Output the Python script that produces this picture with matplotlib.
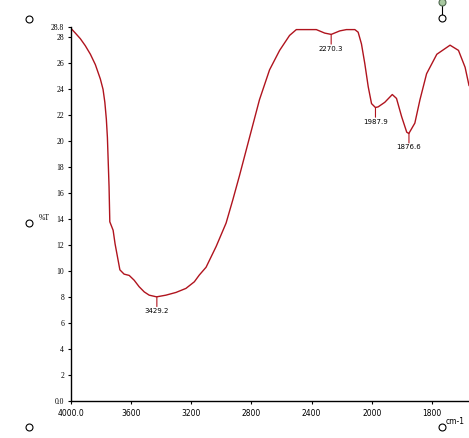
import numpy as np
import matplotlib
matplotlib.use("Agg")
import matplotlib.pyplot as plt

# IR spectrum (wavenumber cm-1, %T)
wavenumber = [4000, 3971, 3938, 3905, 3871, 3838, 3805, 3787, 3775, 3765,
              3758, 3747, 3742, 3720, 3707, 3691, 3675, 3647, 3613, 3580,
              3547, 3513, 3480, 3431, 3369, 3302, 3236, 3180, 3147, 3102,
              3035, 2969, 2924, 2880, 2813, 2747, 2680, 2613, 2547, 2502,
              2369, 2313, 2270, 2213, 2169, 2113, 2091, 2069, 2047, 2024,
              2002, 1988, 1979, 1957, 1932, 1918, 1901, 1884, 1877, 1857,
              1840, 1818, 1784, 1740, 1712, 1690, 1677]
transmittance = [28.69, 28.33, 27.9, 27.36, 26.7, 25.9, 24.8, 24.0, 23.0, 21.7,
                 20.3, 16.5, 13.8, 13.15, 12.1, 11.1, 10.1, 9.77, 9.67, 9.3,
                 8.8, 8.4, 8.15, 8.02, 8.15, 8.36, 8.67, 9.18, 9.7, 10.3,
                 11.9, 13.7, 15.5, 17.35, 20.3, 23.2, 25.5, 27.0, 28.15, 28.6,
                 28.6, 28.33, 28.23, 28.5, 28.6, 28.6, 28.4, 27.5, 26.0, 24.2,
                 22.9, 22.6, 22.65, 23.0, 23.6, 23.3, 21.9, 20.7, 20.6, 21.4,
                 23.2, 25.2, 26.7, 27.4, 27.0, 25.7, 24.3]

peaks = [3429.2, 2270.3, 1987.9, 1876.6]
peak_labels = ["3429.2", "2270.3", "1987.9", "1876.6"]

xticks = [4000, 3600, 3200, 2800, 2400, 2000, 1800]
xtick_labels = ["4000.0", "3600", "3200", "2800", "2400", "2000", "1800"]
yticks = [0, 2, 4, 6, 8, 10, 12, 14, 16, 18, 20, 22, 24, 26, 28, 28.8]
ytick_labels = ["0.0", "2", "4", "6", "8", "10", "12", "14", "16", "18",
                "20", "22", "24", "26", "28", "28.8"]

red = "#b0141e"
W, H = 469, 438

# scale is expanded 2x below 2000 cm-1
def fwd(x):
    x = np.asarray(x, dtype=float)
    return np.where(x >= 2000, x, 2 * x - 2000)

def inv(u):
    u = np.asarray(u, dtype=float)
    return np.where(u >= 2000, u, (u + 2000) / 2.0)

fig = plt.figure(figsize=(W / 100, H / 100), dpi=100)
ax = fig.add_axes([71 / W, 1 - 401 / H, 1 - 71 / W, (401 - 27) / H])
ax.set_xscale("function", functions=(fwd, inv))
ax.plot(wavenumber, transmittance, color=red, lw=1.0)
ax.set_xlim(4000, 1677)
ax.set_ylim(0, 28.8)

for s in ["top", "right"]:
    ax.spines[s].set_visible(False)
for s in ["left", "bottom"]:
    ax.spines[s].set_linewidth(1.0)

ax.set_xticks(xticks)
ax.set_xticklabels(xtick_labels, fontsize=5.5, family="DejaVu Sans")
ax.set_yticks(yticks)
ax.set_yticklabels(ytick_labels, fontsize=5.5, family="Liberation Serif")
ax.xaxis.set_minor_locator(matplotlib.ticker.NullLocator())
ax.tick_params(axis="x", length=2, width=0.8, pad=4)
ax.tick_params(axis="y", length=2, width=0.8, pad=3)

# peak markers
wn_asc = np.array(wavenumber[::-1], dtype=float)
t_asc = np.array(transmittance[::-1], dtype=float)
for p, lab in zip(peaks, peak_labels):
    v = np.interp(p, wn_asc, t_asc)
    ax.annotate("", xy=(p, v), xytext=(0, -7), textcoords="offset points",
                arrowprops=dict(arrowstyle="-", color=red, lw=0.8,
                                shrinkA=0, shrinkB=0))
    ax.annotate(lab, xy=(p, v), xytext=(0, -8), textcoords="offset points",
                ha="center", va="top", fontsize=5, family="DejaVu Sans")

fig.text(39 / W, 1 - 218 / H, "%T", fontsize=5.5, family="Liberation Serif",
         va="center", ha="left")
fig.text(446 / W, 1 - 421 / H, "cm-1", fontsize=5.5, family="DejaVu Sans",
         va="center", ha="left")

# window handles
ov = fig.add_axes([0, 0, 1, 1], facecolor="none")
ov.set_xlim(0, W)
ov.set_ylim(H, 0)
ov.axis("off")
ov.plot([442, 442], [3, 18], color="black", lw=0.8)
for hx, hy in [(29, 19), (29, 223), (29, 427), (442, 427), (442, 18)]:
    ov.plot(hx, hy, "o", ms=5, mfc="white", mec="black", mew=0.8)
ov.plot(442, 2, "o", ms=5, mfc="#a8c8a0", mec="#506850", mew=0.8)

fig.savefig("out.png", dpi=100)
